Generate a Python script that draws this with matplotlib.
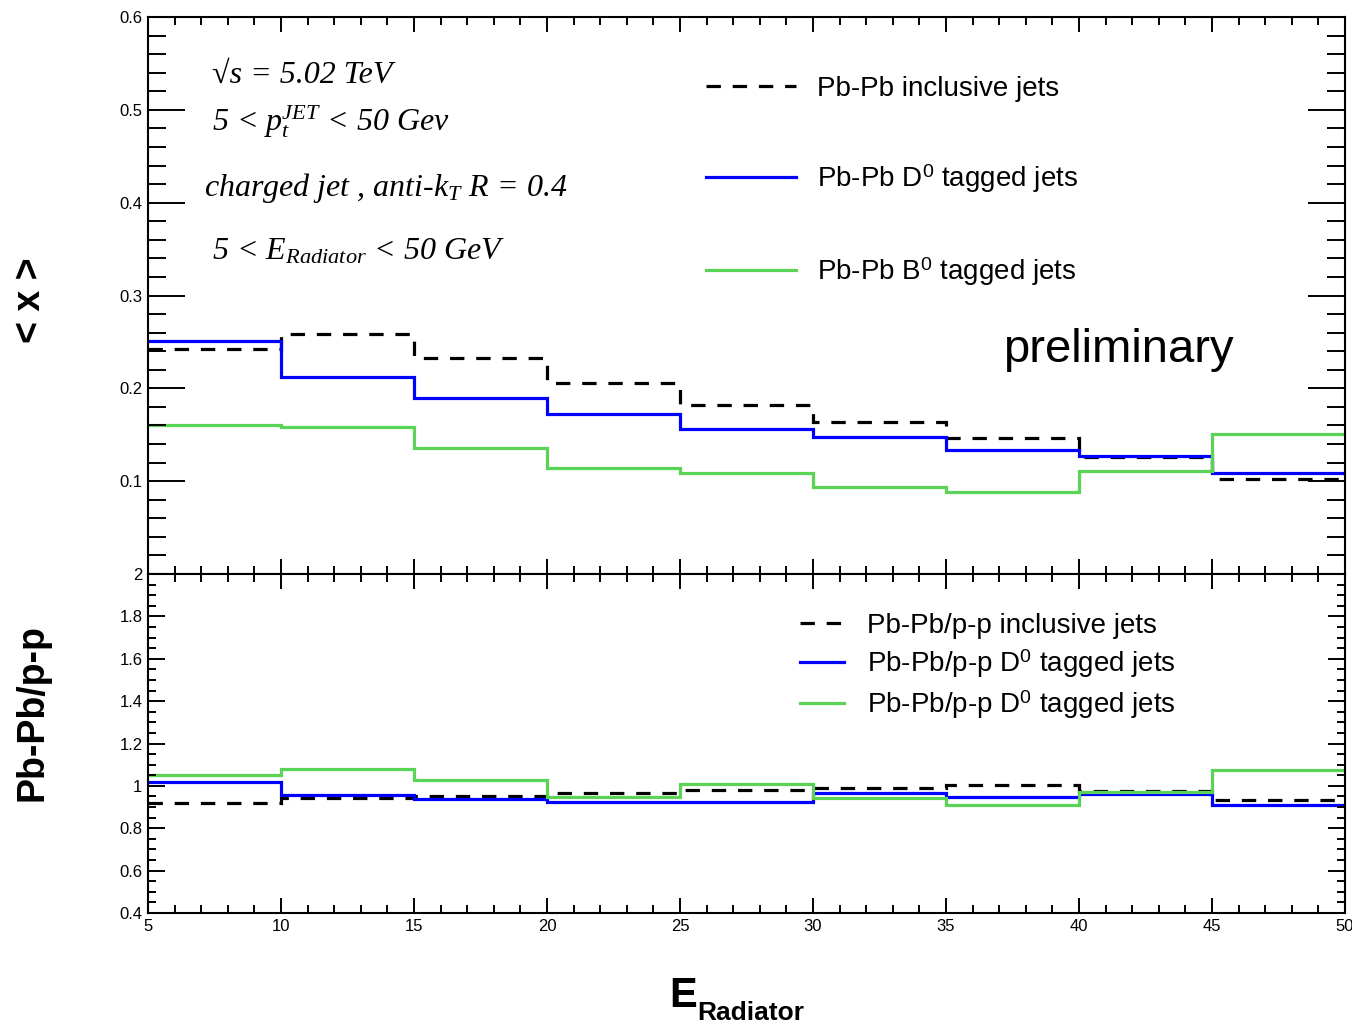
import matplotlib
matplotlib.use("Agg")
import matplotlib.pyplot as plt
from matplotlib.lines import Line2D
from matplotlib.ticker import MultipleLocator

plt.rcParams['font.family'] = ['Liberation Sans', 'DejaVu Sans']
plt.rcParams['mathtext.fontset'] = 'custom'
plt.rcParams['mathtext.rm'] = 'Liberation Serif:italic'
plt.rcParams['mathtext.it'] = 'Liberation Serif:italic'
plt.rcParams['mathtext.sf'] = 'Liberation Sans'

# bin edges of E_Radiator (GeV)
edges = [5, 10, 15, 20, 25, 30, 35, 40, 45, 50]

# <x> in Pb-Pb
pbpb_incl = [0.242, 0.259, 0.2325, 0.2055, 0.1825, 0.1635, 0.147, 0.126, 0.102]
pbpb_d0 = [0.2505, 0.2127, 0.1894, 0.172, 0.1559, 0.1473, 0.1336, 0.1272, 0.1085]
pbpb_b0 = [0.1606, 0.1588, 0.1354, 0.1146, 0.1092, 0.094, 0.0887, 0.1113, 0.1509]

# ratio Pb-Pb / p-p
ratio_incl = [0.919, 0.944, 0.950, 0.966, 0.980, 0.989, 1.005, 0.977, 0.934]
ratio_d0 = [1.016, 0.958, 0.938, 0.922, 0.922, 0.966, 0.947, 0.961, 0.909]
ratio_b0 = [1.052, 1.082, 1.028, 0.947, 1.011, 0.941, 0.909, 0.972, 1.074]

top_labels = ["Pb-Pb inclusive jets", r"Pb-Pb D$^{\mathsf{0}}$ tagged jets",
              r"Pb-Pb B$^{\mathsf{0}}$ tagged jets"]
bot_labels = ["Pb-Pb/p-p inclusive jets", r"Pb-Pb/p-p D$^{\mathsf{0}}$ tagged jets",
              r"Pb-Pb/p-p D$^{\mathsf{0}}$ tagged jets"]

W, H = 1352, 1025
BLUE = "#0000ff"
GREEN = "#59d454"
LW = 2.3
DASH = (4.5, 3.7)

fig = plt.figure(figsize=(W / 100, H / 100), dpi=100)
ax1 = fig.add_axes([148 / W, 1 - 574 / H, 1197 / W, 557 / H])
ax2 = fig.add_axes([148 / W, 1 - 913 / H, 1197 / W, 339 / H])


def px(x, y):
    return x / W, 1 - y / H


def style(ax, ylen, xlen):
    ax.tick_params(which='both', direction='in', top=True, right=True, width=1.4,
                   labelsize=12)
    ax.tick_params(axis='y', which='major', length=ylen[0], pad=4)
    ax.tick_params(axis='y', which='minor', length=ylen[1])
    ax.tick_params(axis='x', which='major', length=xlen[0], pad=4)
    ax.tick_params(axis='x', which='minor', length=xlen[1])
    ax.xaxis.set_major_locator(MultipleLocator(5))
    ax.xaxis.set_minor_locator(MultipleLocator(1))
    for s in ax.spines.values():
        s.set_linewidth(1.5)


# upper panel
ax1.stairs(pbpb_incl, edges, baseline=None, color='black', lw=LW, linestyle=(0, DASH))
ax1.stairs(pbpb_d0, edges, baseline=None, color=BLUE, lw=LW)
ax1.stairs(pbpb_b0, edges, baseline=None, color=GREEN, lw=LW)
ax1.set_xlim(5, 50)
ax1.set_ylim(0, 0.6)
style(ax1, (26.5, 13), (11, 6))
ax1.yaxis.set_major_locator(MultipleLocator(0.1))
ax1.yaxis.set_minor_locator(MultipleLocator(0.02))
ax1.set_yticks([0.1, 0.2, 0.3, 0.4, 0.5, 0.6])
ax1.tick_params(axis='x', labelbottom=False)

h_top = [Line2D([], [], color='black', lw=LW, linestyle=(0, DASH)),
         Line2D([], [], color=BLUE, lw=LW),
         Line2D([], [], color=GREEN, lw=LW)]
ax1.legend(h_top, top_labels, loc='upper left', bbox_to_anchor=px(706, 76),
           bbox_transform=fig.transFigure, frameon=False, fontsize=20,
           handlelength=3.25, handletextpad=0.75, labelspacing=2.18,
           borderpad=0, borderaxespad=0)

# lower panel
ax2.stairs(ratio_incl, edges, baseline=None, color='black', lw=LW, linestyle=(0, DASH))
ax2.stairs(ratio_d0, edges, baseline=None, color=BLUE, lw=LW)
ax2.stairs(ratio_b0, edges, baseline=None, color=GREEN, lw=LW)
ax2.set_xlim(5, 50)
ax2.set_ylim(0.4, 2.0)
style(ax2, (12, 6), (11, 6))
ax2.yaxis.set_major_locator(MultipleLocator(0.2))
ax2.yaxis.set_minor_locator(MultipleLocator(0.05))
ax2.set_yticks([0.4, 0.6, 0.8, 1.0, 1.2, 1.4, 1.6, 1.8, 2.0])
ax2.set_yticklabels(["0.4", "0.6", "0.8", "1", "1.2", "1.4", "1.6", "1.8", "2"])

h_bot = [Line2D([], [], color='black', lw=LW, linestyle=(0, DASH)),
         Line2D([], [], color=BLUE, lw=LW),
         Line2D([], [], color=GREEN, lw=LW)]
ax2.legend(h_bot, bot_labels, loc='upper left', bbox_to_anchor=px(800, 613),
           bbox_transform=fig.transFigure, frameon=False, fontsize=20,
           handlelength=1.6, handletextpad=0.8, labelspacing=0.31,
           borderpad=0, borderaxespad=0)

# axis titles
fig.text(*px(30, 300), "< x >", rotation=90, fontsize=27, fontweight='bold',
         ha='center', va='center')
fig.text(*px(33, 713), "Pb-Pb/p-p", rotation=90, fontsize=27, fontweight='bold',
         ha='center', va='center')
fig.text(*px(669, 1007), "E", fontsize=30, fontweight='bold', ha='left', va='baseline')
fig.text(*px(697, 1020), "Radiator", fontsize=19, fontweight='bold',
         ha='left', va='baseline')

fig.text(*px(1003, 350), "preliminary", fontsize=34, ha='left', va='center')

# run conditions
serif = dict(family=['Liberation Serif', 'DejaVu Serif'], style='italic',
             fontsize=23, ha='left', va='center')
fig.text(*px(212, 75), "√s = 5.02 TeV", **serif)
fig.text(*px(212, 122), r"5 < p$_{t}^{JET}$ < 50 Gev", **serif)
fig.text(*px(204, 188), r"charged jet , anti-k$_{T}$ R = 0.4", **serif)
fig.text(*px(212, 252), r"5 < E$_{Radiator}$ < 50 GeV", **serif)

fig.savefig("out.png", dpi=100)
